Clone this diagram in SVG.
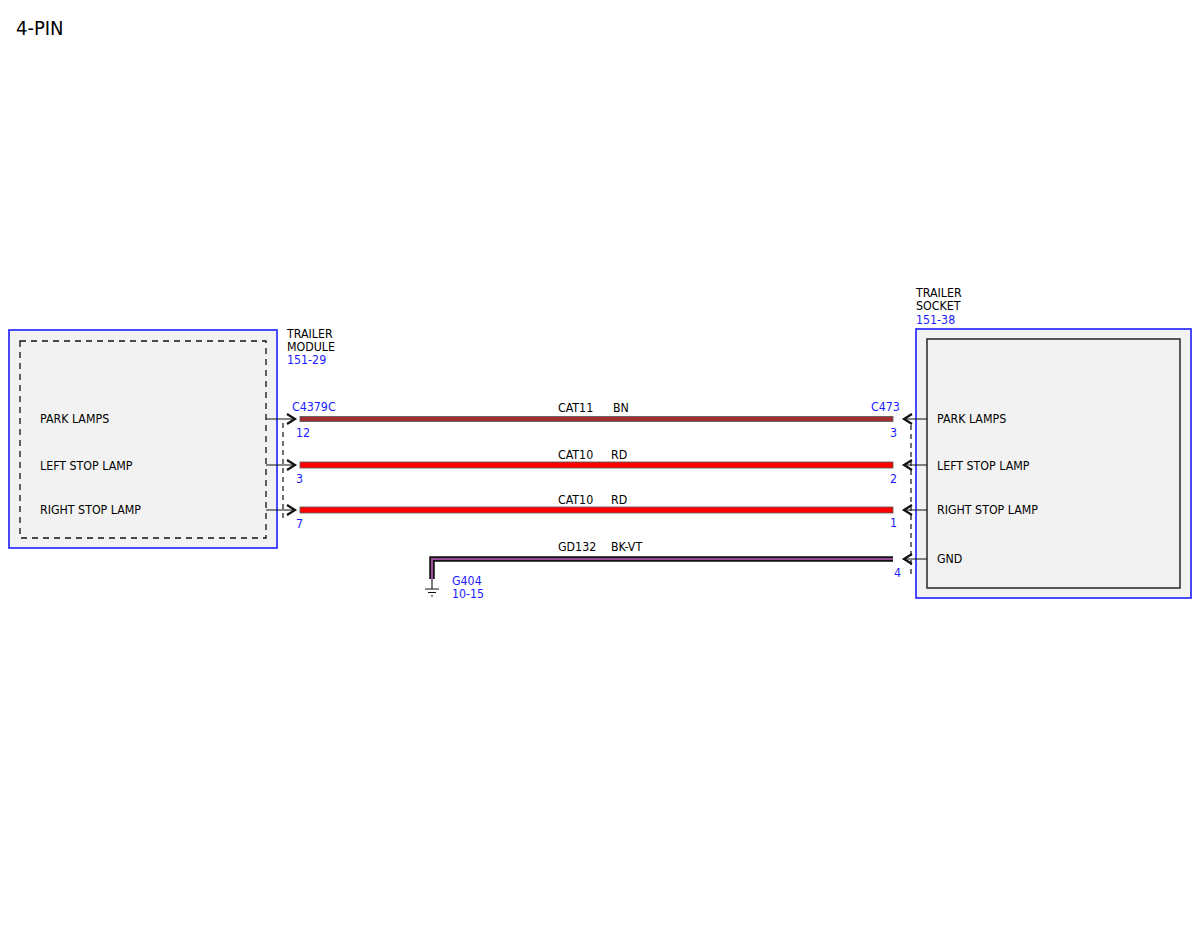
<svg xmlns="http://www.w3.org/2000/svg" width="1200" height="927" viewBox="0 0 1200 927">
<style>
text{font-family:"DejaVu Sans Condensed","DejaVu Sans",sans-serif;font-size:12.3px;fill:#000}
.b{fill:#1a1aff}
.outer{fill:#f2f2f2;stroke:#2a2aff;stroke-width:1.7}
.stub{stroke:#111;stroke-width:1.2;fill:none}
.chev{stroke:#111;stroke-width:2.2;fill:none}
.dash{stroke:#111;stroke-width:1.2;stroke-dasharray:5,4;fill:none}
.wire{stroke:#555;stroke-width:0.8}
</style>
<rect width="1200" height="927" fill="#fff"/>
<text x="16" y="35" style="font-size:20px">4-PIN</text>

<g id="trailer-module">
<rect class="outer" x="9" y="330" width="268" height="218"/>
<rect x="20" y="341" width="246" height="197" fill="none" stroke="#111" stroke-width="1.3" stroke-dasharray="6,5"/>
<text x="40" y="423">PARK LAMPS</text>
<text x="40" y="470">LEFT STOP LAMP</text>
<text x="40" y="514">RIGHT STOP LAMP</text>
<text x="287" y="338">TRAILER</text>
<text x="287" y="351">MODULE</text>
<text x="287" y="364" class="b">151-29</text>
</g>

<g id="trailer-socket">
<rect class="outer" x="916" y="329" width="275" height="269"/>
<rect x="927" y="339" width="253" height="249" fill="#f2f2f2" stroke="#333" stroke-width="1.6"/>
<text x="937" y="423">PARK LAMPS</text>
<text x="937" y="470">LEFT STOP LAMP</text>
<text x="937" y="514">RIGHT STOP LAMP</text>
<text x="937" y="563">GND</text>
<text x="916" y="297">TRAILER</text>
<text x="916" y="310">SOCKET</text>
<text x="916" y="324" class="b">151-38</text>
</g>

<g id="connector-C4379C">
<path class="stub" d="M266 419H296M266 465H296M266 510H296"/>
<path class="chev" d="M287 414L295 419L287 424M287 460L295 465L287 470M287 505L295 510L287 515"/>
<path class="dash" d="M283 423V518"/>
<text x="292" y="411" class="b">C4379C</text>
<text x="296" y="437" class="b">12</text>
<text x="296" y="483" class="b">3</text>
<text x="296" y="528" class="b">7</text>
</g>

<g id="connector-C473">
<path class="stub" d="M903 419H927M903 465H927M903 510H927M903 559H927"/>
<path class="chev" d="M912 414L904 419L912 424M912 460L904 465L912 470M912 505L904 510L912 515M912 554L904 559L912 564"/>
<path class="dash" d="M911 425V576"/>
<text x="871" y="411" class="b">C473</text>
<text x="890" y="437" class="b">3</text>
<text x="890" y="483" class="b">2</text>
<text x="890" y="527" class="b">1</text>
<text x="894" y="577" class="b">4</text>
</g>

<g id="connectors">
<rect class="wire" x="300" y="416.5" width="593" height="5" fill="#a0302e"/>
<rect class="wire" x="300" y="462" width="593" height="6" fill="#ff0000"/>
<rect class="wire" x="300" y="507" width="593" height="6" fill="#ff0000"/>
<path d="M893 559H432V579" fill="none" stroke="#111" stroke-width="5.5"/>
<path d="M893 559H432V579" fill="none" stroke="#c060c0" stroke-width="1.6"/>
<text x="558" y="412">CAT11</text><text x="613" y="412">BN</text>
<text x="558" y="459">CAT10</text><text x="611" y="459">RD</text>
<text x="558" y="504">CAT10</text><text x="611" y="504">RD</text>
<text x="558" y="551">GD132</text><text x="611" y="551">BK-VT</text>
</g>

<g id="ground-G404">
<path d="M432 579V589M425 589H439M428 592.5H436M431 596H433" stroke="#111" stroke-width="1.1" fill="none"/>
<text x="452" y="585" class="b">G404</text>
<text x="452" y="598" class="b">10-15</text>
</g>
</svg>
